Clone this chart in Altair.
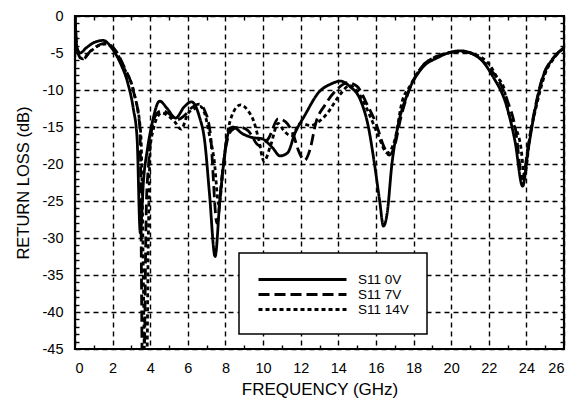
import altair as alt
import pandas as pd

# ---- data ----
series_names = ["S11 0V", "S11 7V", "S11 14V"]

f_0v = [0, 0.1, 0.27, 0.6, 1.0, 1.5, 2.0, 2.4, 2.8, 3.1, 3.3, 3.47, 3.65, 3.85, 4.1, 4.5,
        4.9, 5.35, 5.8, 6.2, 6.6, 6.9, 7.15, 7.45, 7.7, 7.9, 8.1, 8.4, 8.9, 9.4, 9.95, 10.5,
        10.9, 11.3, 11.7, 12.2, 13.0, 13.6, 14.1, 14.6, 15.2, 15.6, 15.9, 16.2, 16.4, 16.6,
        16.85, 17.1, 17.7, 18.4, 19.3, 20.5, 21.5, 22.2, 23.0, 23.4, 23.8, 24.1, 24.4, 24.9,
        25.4, 26]
d_0v = [0, -4.2, -5.0, -4.3, -3.6, -3.3, -4.5, -6.3, -9.0, -12.5, -16.5, -29.3, -22, -18,
        -14.5, -11.5, -12.5, -13.8, -12.3, -11.6, -13.5, -17, -24, -32.5, -25, -20, -16.2,
        -15.0, -15.9, -16.4, -16.6, -17.8, -18.9, -18.5, -15.8, -13.5, -10.2, -9.2, -8.8,
        -9.5, -11.5, -15, -19.6, -25, -28.4, -26.6, -20, -15.8, -10.4, -7.2, -5.6, -4.7,
        -5.7, -8.1, -12.6, -17, -23.0, -18, -13.5, -8.1, -5.8, -4.3]

f_7v = [0, 0.1, 0.4, 0.8, 1.6, 2.2, 2.6, 3.1, 3.45, 3.62, 3.8, 3.9, 4.1, 4.35, 4.6, 5.0,
        5.45, 5.8, 6.2, 6.6, 6.9, 7.2, 7.55, 7.8, 8.0, 8.3, 8.7, 9.2, 9.8, 10.3, 10.8, 11.2,
        11.6, 11.9, 12.2, 12.5, 12.8, 13.3, 13.9, 14.5, 15.0, 15.5, 16.0, 16.4, 16.7, 17.0,
        17.3, 17.8, 18.4, 19.3, 20.5, 21.3, 22.0, 22.5, 23.0, 23.4, 23.8, 24.1, 24.4, 24.9,
        25.4, 26]
d_7v = [0, -4.5, -5.9, -4.8, -3.7, -4.8, -6.8, -10.1, -15.1, -55, -25, -20.5, -15, -13.2,
        -12.8, -13.2, -14.0, -13.5, -12.4, -11.9, -12.8, -16, -28, -22, -18, -15.5, -15,
        -15.5, -17.5, -16.5, -13.9, -14.3, -16.0, -18.3, -19.5, -18, -14.5, -12, -10, -9.0,
        -9.5, -11.8, -14.5, -17.5, -18.8, -17.5, -14, -9.8, -7.0, -5.4, -4.8, -5.3, -7.0,
        -8.6, -11.5, -15, -22, -17.5, -13.2, -8.0, -5.8, -4.3]

f_14v = [0, 0.1, 0.4, 0.8, 1.6, 2.2, 2.6, 3.15, 3.5, 3.78, 3.9, 4.0, 4.15, 4.35, 4.6, 5.0,
         5.3, 5.65, 6.0, 6.3, 6.65, 6.9, 7.1, 7.4, 7.65, 7.9, 8.1, 8.4, 8.8, 9.2, 9.5, 9.75,
         10.05, 10.4, 10.8, 11.1, 11.5, 12.0, 12.5, 13.0, 13.4, 14.1, 14.6, 15.1, 15.6, 16.1,
         16.6, 17.0, 17.4, 17.8, 18.4, 19.3, 20.5, 21.3, 22.1, 22.4, 22.8, 23.0, 23.3, 23.7,
         23.9, 24.2, 24.5, 25.0, 25.5, 26]
d_14v = [0, -4.5, -5.8, -4.8, -3.8, -4.9, -7.0, -10.5, -16, -55, -30, -17.8, -15.5, -13.8,
         -13.1, -13.6, -14.3, -15.3, -13.2, -12.6, -12.2, -13.2, -15.5, -19.5, -25.5, -20,
         -16, -13.1, -12.0, -12.8, -14.2, -16.5, -19.6, -17.5, -14.5, -15.5, -16.2, -14.5,
         -14.8, -14.2, -13.2, -10.6, -9.4, -10.5, -13, -16, -18.5, -16.8, -11.5, -9.5, -7.0,
         -5.4, -4.8, -5.2, -6.8, -8.1, -9.7, -12.6, -14.5, -17.6, -21.5, -16, -12.5, -7.8,
         -5.6, -4.3]

x_major = list(range(0, 27, 2))
x_minor = list(range(1, 26, 2))
y_major = list(range(-45, 1, 5))
y_minor = [v for v in range(-44, 0) if v % 5 != 0]

rows = []
for name, fs, ds in [(series_names[0], f_0v, d_0v), (series_names[1], f_7v, d_7v),
                     (series_names[2], f_14v, d_14v)]:
    for fv, dv in zip(fs, ds):
        rows.append({"series": name, "f": fv, "d": dv})
df = pd.DataFrame(rows)

FONT = "Liberation Sans"
xscale = alt.Scale(domain=[0, 26], nice=False, zero=False)
yscale = alt.Scale(domain=[-45, 0], nice=False, zero=False)

main_x_axis = alt.Axis(values=x_major, orient="bottom", title="FREQUENCY (GHz)", grid=True,
                       gridColor="black", gridDash=[5, 4], gridWidth=1.4, gridOpacity=1,
                       ticks=False, tickSize=0, domain=False, labelPadding=12,
                       labelFont=FONT, labelFontSize=14.5, labelColor="black",
                       titleFont=FONT, titleFontSize=17, titleFontWeight="normal",
                       titleColor="black", titlePadding=7, labelExpr="'' + datum.value")
main_y_axis = alt.Axis(values=y_major, orient="left", title="RETURN LOSS (dB)", grid=True,
                       gridColor="black", gridDash=[5, 4], gridWidth=1.4, gridOpacity=1,
                       ticks=False, tickSize=0, domain=False, labelPadding=12,
                       labelFont=FONT, labelFontSize=14.5, labelColor="black",
                       titleFont=FONT, titleFontSize=16.5, titleFontWeight="normal",
                       titleColor="black", titlePadding=11, labelExpr="'' + datum.value")

legend = alt.Legend(title=None, orient="none", legendX=164, legendY=237,
                    direction="vertical", fillColor="white", strokeColor="black",
                    padding=18, symbolType="M-1,0H11.57", symbolSize=196,
                    symbolStrokeWidth=2.8, symbolStrokeColor="black",
                    labelFont=FONT, labelFontSize=13.5, labelColor="black",
                    labelOffset=84, rowPadding=-2)

lines = alt.Chart(df).mark_line(clip=True, interpolate="monotone", strokeWidth=2.8,
                                color="black").encode(
    x=alt.X("f:Q", scale=xscale, axis=main_x_axis),
    y=alt.Y("d:Q", scale=yscale, axis=main_y_axis),
    strokeDash=alt.StrokeDash("series:N",
                              scale=alt.Scale(domain=series_names,
                                              range=[[1, 0], [11, 5], [4, 3]]),
                              sort=series_names, legend=legend),
    detail="series:N",
)

def minor_axis(vals, orient):
    return alt.Axis(values=vals, orient=orient, offset=-4, tickSize=4, ticks=True,
                    tickColor="black", tickWidth=1.4, labels=False, domain=False,
                    grid=False, title=None)

minor_a = alt.Chart(df).mark_point(opacity=0).encode(
    x=alt.X("f:Q", scale=xscale, axis=minor_axis(x_minor, "bottom")),
    y=alt.Y("d:Q", scale=yscale, axis=minor_axis(y_minor, "left")),
)
minor_b = alt.Chart(df).mark_point(opacity=0).encode(
    x=alt.X("f:Q", scale=xscale, axis=minor_axis(x_minor, "top")),
    y=alt.Y("d:Q", scale=yscale, axis=minor_axis(y_minor, "right")),
)

chart = alt.layer(lines, minor_a, minor_b).resolve_axis(
    x="independent", y="independent"
).properties(
    width=489, height=333,
    padding={"left": 7, "top": 0, "right": 0, "bottom": 0},
).configure_view(
    stroke="black", strokeWidth=2.2
).configure_legend(
    strokeWidth=1.5
)

chart.save("out.html", embed_options={"renderer": "svg", "actions": False})
